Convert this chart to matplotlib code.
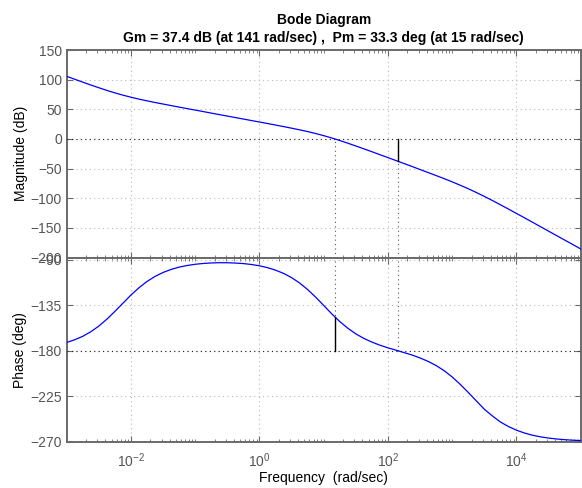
import matplotlib
matplotlib.use("Agg")
import matplotlib.pyplot as plt
from matplotlib.ticker import FixedLocator, LogLocator, NullFormatter, LogFormatterSciNotation
import numpy as np

plt.rcParams['font.family'] = ['Liberation Sans', 'DejaVu Sans']
plt.rcParams['mathtext.fontset'] = 'custom'
plt.rcParams['mathtext.rm'] = 'Liberation Sans'
plt.rcParams['mathtext.it'] = 'Liberation Sans:italic'
plt.rcParams['mathtext.bf'] = 'Liberation Sans:bold'

# ---- data ----
log_freq = [-3.0, -2.875, -2.75, -2.625, -2.5, -2.375, -2.25, -2.125, -2.0, -1.875,
            -1.75, -1.625, -1.5, -1.375, -1.25, -1.125, -1.0, -0.875, -0.75, -0.625,
            -0.5, -0.375, -0.25, -0.125, 0.0, 0.125, 0.25, 0.375, 0.5, 0.625,
            0.75, 0.875, 1.0, 1.125, 1.25, 1.375, 1.5, 1.625, 1.75, 1.875,
            2.0, 2.125, 2.25, 2.375, 2.5, 2.625, 2.75, 2.875, 3.0, 3.125,
            3.25, 3.375, 3.5, 3.625, 3.75, 3.875, 4.0, 4.125, 4.25, 4.375,
            4.5, 4.625, 4.75, 4.875, 5.0]
magnitude_db = [105.6, 100.7, 95.8, 91.0, 86.4, 81.9, 77.7, 73.9, 70.4, 67.2,
                64.3, 61.5, 58.9, 56.3, 53.7, 51.2, 48.7, 46.2, 43.6, 41.1,
                38.6, 36.1, 33.6, 31.1, 28.6, 26.1, 23.5, 20.9, 18.2, 15.4,
                12.5, 9.2, 5.6, 1.7, -2.6, -7.1, -11.8, -16.6, -21.5, -26.5,
                -31.4, -36.4, -41.4, -46.4, -51.5, -56.6, -61.7, -66.9, -72.3, -78.0,
                -83.9, -90.2, -96.8, -103.7, -110.9, -118.1, -125.5, -132.9, -140.4, -147.9,
                -155.4, -162.9, -170.4, -177.8, -185.4]
phase_deg = [-171.9, -169.2, -165.8, -161.3, -155.7, -148.9, -141.2, -133.1, -125.0, -117.8,
             -111.6, -106.6, -102.7, -99.7, -97.4, -95.8, -94.6, -93.8, -93.3, -93.05,
             -93.1, -93.4, -93.9, -94.8, -96.1, -97.9, -100.4, -103.6, -107.8, -113.1,
             -119.6, -127.1, -135.3, -143.6, -151.2, -157.8, -163.4, -167.9, -171.5, -174.6,
             -177.2, -179.5, -181.9, -184.3, -187.2, -190.6, -194.7, -199.8, -206.0, -213.3,
             -221.3, -229.6, -237.9, -244.5, -250.5, -255.0, -258.6, -261.4, -263.6, -265.2,
             -266.4, -267.3, -268.0, -268.5, -268.9]

gain_margin_db = 37.4
gain_cross_freq = 141.0
phase_margin_deg = 33.3
phase_cross_freq = 15.0

mag_ticks = [-200, -150, -100, -50, 0, 50, 100, 150]
phase_ticks = [-270, -225, -180, -135, -90]
freq_ticks = [1e-2, 1e0, 1e2, 1e4]

freq = [10.0 ** v for v in log_freq]

W, H = 582, 488
fig = plt.figure(figsize=(W / 100, H / 100), dpi=100)

left, right = 66.7 / W, 580.7 / W
mag_top, mid, ph_bot = 50.0, 257.6, 441.7
ax_mag = fig.add_axes([left, 1 - mid / H, right - left, (mid - mag_top) / H])
ax_ph = fig.add_axes([left, 1 - ph_bot / H, right - left, (ph_bot - mid) / H])

axis_col = '#6a6a6a'
grid_col = '#b8b8b8'
blue = '#0000ff'
FS = 10

for ax in (ax_mag, ax_ph):
    ax.set_xscale('log')
    ax.set_xlim(1e-3, 1e5)
    ax.xaxis.set_major_locator(FixedLocator(freq_ticks))
    ax.xaxis.set_minor_locator(LogLocator(base=10, subs=np.arange(1, 10), numticks=50))
    ax.xaxis.set_minor_formatter(NullFormatter())
    ax.grid(True, which='major', color=grid_col, linestyle=(0, (1, 3)), linewidth=0.8)
    ax.tick_params(which='both', direction='in', top=True, right=True,
                   color=axis_col, labelcolor='#555555', labelsize=FS)
    ax.tick_params(which='major', length=4, width=0.8)
    ax.tick_params(which='minor', length=2, width=0.6)
    ax.tick_params(axis='x', which='major', pad=7)
    for s in ax.spines.values():
        s.set_color(axis_col)
        s.set_linewidth(1.4)

# magnitude
ax_mag.plot(freq, magnitude_db, color=blue, linewidth=0.9, zorder=5)
ax_mag.set_ylim(-200, 150)
ax_mag.set_yticks(mag_ticks)
ax_mag.tick_params(labelbottom=False)
ax_mag.axhline(0, color='#222222', linestyle=(0, (1, 3)), linewidth=0.8, zorder=3)
ax_mag.vlines([phase_cross_freq, gain_cross_freq], -200, 0, colors='#555555',
              linestyles=(0, (1, 3)), linewidth=0.8, zorder=3)
ax_mag.plot([gain_cross_freq, gain_cross_freq], [0, -gain_margin_db], color='k', linewidth=1.0, zorder=6)
ax_mag.set_ylabel('Magnitude (dB)', fontsize=FS, labelpad=2)

# phase
ph_top = -88
ax_ph.plot(freq, phase_deg, color=blue, linewidth=0.9, zorder=5)
ax_ph.set_ylim(-270, ph_top)
ax_ph.set_yticks(phase_ticks)
ax_ph.xaxis.set_major_formatter(LogFormatterSciNotation())
ax_ph.axhline(-180, color='#222222', linestyle=(0, (1, 3)), linewidth=0.8, zorder=3)
ax_ph.vlines([phase_cross_freq, gain_cross_freq], -180, ph_top, colors='#555555',
             linestyles=(0, (1, 3)), linewidth=0.8, zorder=3)
ax_ph.plot([phase_cross_freq, phase_cross_freq], [-180, -180 + phase_margin_deg],
           color='k', linewidth=1.0, zorder=6)
ax_ph.set_ylabel('Phase (deg)', fontsize=FS, labelpad=2)
ax_ph.set_xlabel('Frequency  (rad/sec)', fontsize=FS, labelpad=1)

ax_mag.set_title('Bode Diagram\nGm = %.1f dB (at %g rad/sec) ,  Pm = %.1f deg (at %g rad/sec)'
                 % (gain_margin_db, gain_cross_freq, phase_margin_deg, phase_cross_freq),
                 fontsize=FS, fontweight='bold', pad=6, linespacing=1.35)

fig.savefig('out.png', dpi=100)
